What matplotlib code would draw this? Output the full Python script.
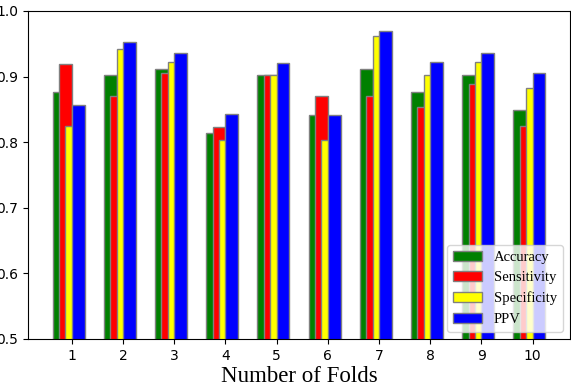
import matplotlib.pyplot as plt
import numpy as np

folds = [1, 2, 3, 4, 5, 6, 7, 8, 9, 10]
accuracy    = [0.877, 0.902, 0.912, 0.814, 0.902, 0.841, 0.912, 0.877, 0.902, 0.849]
sensitivity = [0.919, 0.870, 0.905, 0.823, 0.902, 0.870, 0.870, 0.854, 0.888, 0.824]
specificity = [0.825, 0.942, 0.923, 0.804, 0.902, 0.804, 0.962, 0.902, 0.923, 0.882]
ppv         = [0.856, 0.952, 0.936, 0.843, 0.921, 0.841, 0.969, 0.923, 0.936, 0.905]

series = [
    ('Accuracy', accuracy, 'green', -0.25),
    ('Sensitivity', sensitivity, 'red', -0.125),
    ('Specificity', specificity, 'yellow', 0.0),
    ('PPV', ppv, 'blue', 0.125),
]

W = 0.25

fig = plt.figure(figsize=(5.71, 3.87), dpi=100)
ax = fig.add_axes([28/571, 1-339/387, 542/571, 328/387])

x = np.array(folds)
for name, vals, color, off in series:
    ax.bar(x + off, vals, width=W, color=color, edgecolor='grey',
           linewidth=1, label=name)

ax.set_ylim(0.5, 1.0)
ax.set_xticks(folds)
ax.set_xlabel('Number of Folds', fontsize=16.5, family='Liberation Serif',
              labelpad=2)
ax.legend(loc='lower right', prop={'family': 'Liberation Serif', 'size': 10.5})

fig.savefig('out.png', dpi=100)
